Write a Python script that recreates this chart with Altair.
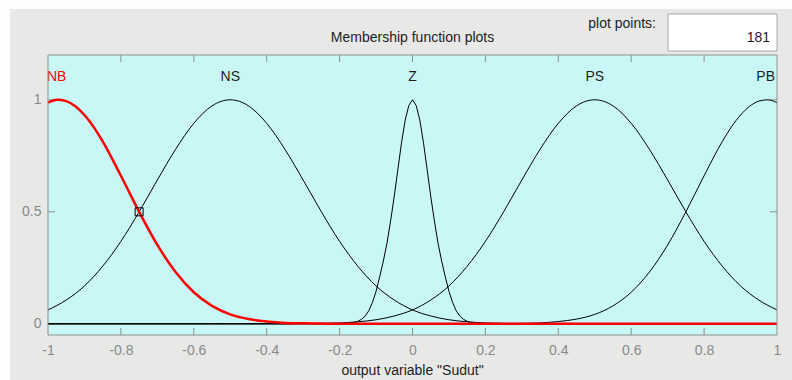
import altair as alt
import pandas as pd

# Universe of the output variable and the sampled membership grades
GRID = [-1.0, -0.95, -0.9, -0.85, -0.8, -0.75, -0.7, -0.65, -0.6, -0.55, -0.5,
        -0.45, -0.4, -0.35, -0.3, -0.25, -0.2, -0.15, -0.1, -0.05, 0.0,
        0.05, 0.1, 0.15, 0.2, 0.25, 0.3, 0.35, 0.4, 0.45, 0.5,
        0.55, 0.6, 0.65, 0.7, 0.75, 0.8, 0.85, 0.9, 0.95, 1.0]

NS = [0.062, 0.106, 0.169, 0.257, 0.368, 0.500, 0.642, 0.779, 0.895, 0.973, 1.000,
      0.973, 0.895, 0.779, 0.642, 0.500, 0.368, 0.257, 0.169, 0.106, 0.062,
      0.035, 0.018, 0.009, 0.004, 0.002, 0.001, 0.0, 0.0, 0.0, 0.0,
      0.0, 0.0, 0.0, 0.0, 0.0, 0.0, 0.0, 0.0, 0.0, 0.0]

PS = [0.0, 0.0, 0.0, 0.0, 0.0, 0.0, 0.0, 0.0, 0.0, 0.0, 0.0,
      0.0, 0.0, 0.0, 0.001, 0.002, 0.004, 0.009, 0.018, 0.035, 0.062,
      0.106, 0.169, 0.257, 0.368, 0.500, 0.642, 0.779, 0.895, 0.973, 1.000,
      0.973, 0.895, 0.779, 0.642, 0.500, 0.368, 0.257, 0.169, 0.106, 0.062]

# Edge sets peak just inside the range, so they get extra samples there
NB_X = [-1.0, -0.975, -0.95, -0.925, -0.9, -0.875, -0.85, -0.8, -0.75, -0.7, -0.65,
        -0.6, -0.55, -0.5, -0.45, -0.4, -0.35, -0.3, -0.25, -0.2, 1.0]
NB = [0.987, 1.0, 0.994, 0.971, 0.932, 0.879, 0.814, 0.661, 0.500, 0.352, 0.231,
      0.141, 0.080, 0.042, 0.021, 0.010, 0.004, 0.002, 0.001, 0.0, 0.0]

PB_X = [-1.0, 0.2, 0.25, 0.3, 0.35, 0.4, 0.45, 0.5, 0.55, 0.6, 0.65,
        0.7, 0.75, 0.8, 0.85, 0.875, 0.9, 0.925, 0.95, 0.975, 1.0]
PB = [0.0, 0.0, 0.001, 0.002, 0.004, 0.010, 0.021, 0.042, 0.080, 0.141, 0.231,
      0.352, 0.500, 0.661, 0.814, 0.879, 0.932, 0.971, 0.994, 1.0, 0.987]

# The narrow "Z" set is sampled more finely around zero
Z_X = [-1.0, -0.2, -0.19, -0.18, -0.17, -0.16, -0.15, -0.14, -0.13, -0.12, -0.11,
       -0.1, -0.09, -0.08, -0.07, -0.06, -0.05, -0.04, -0.03, -0.02, -0.01, 0.0,
       0.01, 0.02, 0.03, 0.04, 0.05, 0.06, 0.07, 0.08, 0.09, 0.1,
       0.11, 0.12, 0.13, 0.14, 0.15, 0.16, 0.17, 0.18, 0.19, 0.2, 1.0]
Z = [0.0, 0.0003, 0.0007, 0.0015, 0.003, 0.006, 0.011, 0.02, 0.034, 0.058, 0.095,
     0.145, 0.21, 0.28, 0.36, 0.46, 0.57, 0.69, 0.81, 0.91, 0.975, 1.0,
     0.975, 0.91, 0.81, 0.69, 0.57, 0.46, 0.36, 0.28, 0.21, 0.145,
     0.095, 0.058, 0.034, 0.02, 0.011, 0.006, 0.003, 0.0015, 0.0007, 0.0003, 0.0]

# Set names and where they are written above the curves
LABELS = ["NB", "NS", "Z", "PS", "PB"]
LABEL_X = [-1.0, -0.5, 0.0, 0.5, 1.0]

X_TICKS = [-1, -0.8, -0.6, -0.4, -0.2, 0, 0.2, 0.4, 0.6, 0.8, 1]
X_INNER_TICKS = [-0.8, -0.6, -0.4, -0.2, 0, 0.2, 0.4, 0.6, 0.8]
Y_TICKS = [0, 0.5, 1]

# Highlighted point on the selected set
SEL_X = [-0.75]
SEL_Y = [0.5]

TITLE = "Membership function plots"
X_TITLE = 'output variable "Sudut"'
PLOT_POINTS = "181"

FONT = "Liberation Sans"
W, H = 729, 280
BORDER = "#8f8f8f"
LABEL_GREY = "#8a8a8a"

xs = alt.Scale(domain=[-1, 1], nice=False, zero=False)
ys = alt.Scale(domain=[-0.05, 1.2], nice=False, zero=False)

x_axis = alt.Axis(values=X_TICKS, labelExpr="'' + datum.value", title=None, domain=False,
                  ticks=False, grid=False, labelFont=FONT, labelFontSize=14,
                  labelColor=LABEL_GREY, labelPadding=8, labelFlush=False, zindex=1)
y_axis = alt.Axis(values=Y_TICKS, labelExpr="'' + datum.value", title=None, domain=False,
                  ticks=False, grid=False, labelFont=FONT, labelFontSize=14,
                  labelColor=LABEL_GREY, labelPadding=7, labelFlush=False, zindex=1)


def X(field):
    return alt.X(field, scale=xs, axis=x_axis, title=None)


def Y(field):
    return alt.Y(field, scale=ys, axis=y_axis, title=None)


one = alt.Data(values=[{}])

wide = pd.DataFrame({"x": GRID, "NS": NS, "PS": PS})
nbdf = pd.DataFrame({"x": NB_X, "mu": NB})
pbdf = pd.DataFrame({"x": PB_X, "mu": PB})
zdf = pd.DataFrame({"x": Z_X, "mu": Z})

# grey panel behind the whole figure
panel = alt.Chart(one).mark_rect(color="#e8e8e6").encode(
    x=alt.value(-38), x2=alt.value(W + 15), y=alt.value(-46), y2=alt.value(H + 45))

# plot background
plot_bg = alt.Chart(one).mark_rect(color="#c8f7f5").encode(
    x=alt.value(0), x2=alt.value(W), y=alt.value(0), y2=alt.value(H))

title = alt.Chart(one).mark_text(
    text=TITLE, font=FONT, fontSize=14, color="#1e1e1e", align="center", baseline="alphabetic"
).encode(x=alt.value(W / 2), y=alt.value(-13))

pp_label = alt.Chart(one).mark_text(
    text="plot points:", font=FONT, fontSize=14, color="#1e1e1e", align="right", baseline="alphabetic"
).encode(x=alt.value(608), y=alt.value(-27))

pp_box = alt.Chart(one).mark_rect(fill="white", stroke="#a8a8a8", strokeWidth=1).encode(
    x=alt.value(620), x2=alt.value(729), y=alt.value(-41), y2=alt.value(-4))

pp_value = alt.Chart(one).mark_text(
    text=PLOT_POINTS, font=FONT, fontSize=14, color="#1e1e1e", align="right", baseline="alphabetic"
).encode(x=alt.value(722), y=alt.value(-13))

x_title = alt.Chart(one).mark_text(
    text=X_TITLE, font=FONT, fontSize=14, color="#1e1e1e", align="center", baseline="alphabetic"
).encode(x=alt.value(W / 2), y=alt.value(320))

# tick marks pointing into the plot
tick_df = pd.DataFrame({"x": X_INNER_TICKS})
ticks_bottom = alt.Chart(tick_df).mark_rule(color=BORDER).encode(
    x=X("x:Q"), y=alt.value(H - 7), y2=alt.value(H))
ticks_top = alt.Chart(tick_df).mark_rule(color=BORDER).encode(
    x=X("x:Q"), y=alt.value(0), y2=alt.value(7))
ytick_df = pd.DataFrame({"mu": Y_TICKS})
ticks_left = alt.Chart(ytick_df).mark_rule(color=BORDER).encode(
    y=Y("mu:Q"), x=alt.value(0), x2=alt.value(7))
ticks_right = alt.Chart(ytick_df).mark_rule(color=BORDER).encode(
    y=Y("mu:Q"), x=alt.value(W - 7), x2=alt.value(W))


def black_curve(col):
    return alt.Chart(wide).mark_line(color="black", strokeWidth=1, interpolate="monotone").encode(
        x=X("x:Q"), y=Y(f"{col}:Q"))


ns_line = black_curve("NS")
ps_line = black_curve("PS")
pb_line = alt.Chart(pbdf).mark_line(color="black", strokeWidth=1, interpolate="monotone").encode(
    x=X("x:Q"), y=Y("mu:Q"))
z_line = alt.Chart(zdf).mark_line(color="black", strokeWidth=1).encode(
    x=X("x:Q"), y=Y("mu:Q"))

# selected set drawn in red, thicker
nb_line = alt.Chart(nbdf).mark_line(color="#ff0000", strokeWidth=2.5, interpolate="monotone").encode(
    x=X("x:Q"), y=Y("mu:Q"))

marker = alt.Chart(pd.DataFrame({"x": SEL_X, "mu": SEL_Y})).mark_point(
    shape="square", filled=False, size=64, color="black", strokeWidth=1, opacity=1
).encode(x=X("x:Q"), y=Y("mu:Q"))

lab_df = pd.DataFrame({"x": LABEL_X, "name": LABELS,
                       "col": ["#ff0000", "#1e1e1e", "#1e1e1e", "#1e1e1e", "#1e1e1e"]})


def set_label(i, align, dx):
    return alt.Chart(lab_df.iloc[[i]]).mark_text(
        font=FONT, fontSize=14, align=align, baseline="alphabetic", dx=dx
    ).encode(x=X("x:Q"), y=alt.value(26),
             text="name:N", color=alt.Color("col:N", scale=None))


labels = [set_label(0, "left", -1), set_label(1, "center", 0), set_label(2, "center", 0),
          set_label(3, "center", 0), set_label(4, "right", -2)]

border = alt.Chart(one).mark_rect(fill=None, stroke=BORDER, strokeWidth=1).encode(
    x=alt.value(0), x2=alt.value(W), y=alt.value(0), y2=alt.value(H))

chart = alt.layer(
    panel, plot_bg, title, pp_label, pp_box, pp_value, x_title,
    ticks_bottom, ticks_top, ticks_left, ticks_right,
    ns_line, ps_line, pb_line, z_line, nb_line, marker, *labels, border
).properties(
    width=W, height=H,
    padding={"left": 48, "top": 55, "right": 15, "bottom": 45},
    autosize=alt.AutoSizeParams(type="none"),
    background="#fdfdfd",
).configure_view(stroke=None, fill=None)

chart.save("out.html", embed_options={"renderer": "svg", "actions": False})
